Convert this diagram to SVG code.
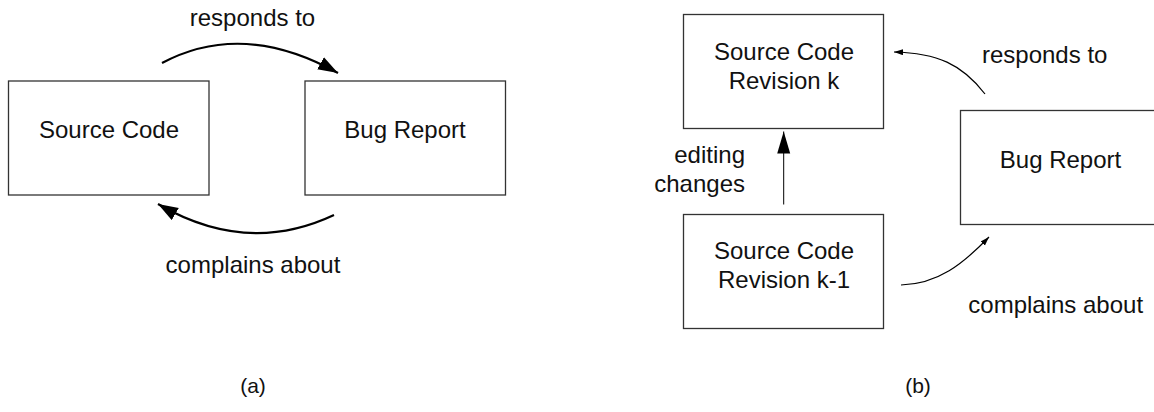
<svg xmlns="http://www.w3.org/2000/svg" width="1154" height="412" viewBox="0 0 1154 412">
  <style>
    .box { fill: #ffffff; stroke: #333333; stroke-width: 1.3; }
    .lbl { font-family: "Liberation Sans", Arial, Helvetica, sans-serif; font-size: 24px; fill: #111111; text-anchor: middle; }
    .cap { font-family: "Liberation Sans", Arial, Helvetica, sans-serif; font-size: 21px; fill: #111111; text-anchor: middle; }
    .thick { fill: none; stroke: #000000; stroke-width: 2.2; }
    .thin { fill: none; stroke: #000000; stroke-width: 1.2; }
  </style>
  <defs>
    <marker id="bigHead" markerUnits="userSpaceOnUse" markerWidth="22" markerHeight="16" refX="20" refY="7" orient="auto">
      <polygon points="0,0 20,7 0,14" fill="#000000"/>
    </marker>
    <marker id="tallHead" markerUnits="userSpaceOnUse" markerWidth="24" markerHeight="14" refX="22" refY="6.5" orient="auto">
      <polygon points="0,0 22,6.5 0,13" fill="#000000"/>
    </marker>
    <marker id="smallHead" markerUnits="userSpaceOnUse" markerWidth="11" markerHeight="8" refX="9" refY="3" orient="auto">
      <polygon points="0,0 9,3 0,6" fill="#000000"/>
    </marker>
  </defs>

  <!-- (a) two-node cycle -->
  <g id="a-source-code">
    <rect class="box" x="8.5" y="81" width="200.5" height="114"/>
    <text class="lbl" x="109" y="138">Source Code</text>
  </g>
  <g id="a-bug-report">
    <rect class="box" x="305" y="81" width="200.5" height="114"/>
    <text class="lbl" x="405" y="138">Bug Report</text>
  </g>

  <!-- (b) revisions and bug report -->
  <g id="b-rev-k">
    <rect class="box" x="683.5" y="14.5" width="200" height="114"/>
    <text class="lbl" x="784" y="60">Source Code</text>
    <text class="lbl" x="784" y="88.7">Revision k</text>
  </g>
  <g id="b-rev-k-1">
    <rect class="box" x="683.5" y="214.5" width="200" height="114"/>
    <text class="lbl" x="784" y="259.3">Source Code</text>
    <text class="lbl" x="784" y="288.3">Revision k-1</text>
  </g>
  <g id="b-bug-report">
    <rect class="box" x="960.5" y="110.5" width="200" height="114"/>
    <text class="lbl" x="1060.5" y="167.7">Bug Report</text>
  </g>

  <g id="connectors">
    <path class="thick" d="M162,63 Q243,20 338,73" marker-end="url(#bigHead)"/>
    <path class="thick" d="M334,215 Q247,256 158,204" marker-end="url(#bigHead)"/>
    <path class="thin" d="M783.7,204.5 L783.7,131.5" marker-end="url(#tallHead)" style="stroke-width:1"/>
    <path class="thin" d="M985,94 C962,64 937,53 894,52" marker-end="url(#smallHead)"/>
    <path class="thin" d="M901,285 C938,284 963,264 989,237" marker-end="url(#smallHead)"/>
  </g>

  <g id="labels">
    <text class="lbl" x="252.5" y="26">responds to</text>
    <text class="lbl" x="253" y="273">complains about</text>
    <text class="lbl" x="745" y="163.3" style="text-anchor:end">editing</text>
    <text class="lbl" x="745" y="191.7" style="text-anchor:end">changes</text>
    <text class="lbl" x="1044.7" y="63.3">responds to</text>
    <text class="lbl" x="1055.7" y="312.7">complains about</text>
    <text class="cap" x="253" y="393">(a)</text>
    <text class="cap" x="918" y="393">(b)</text>
  </g>
</svg>
